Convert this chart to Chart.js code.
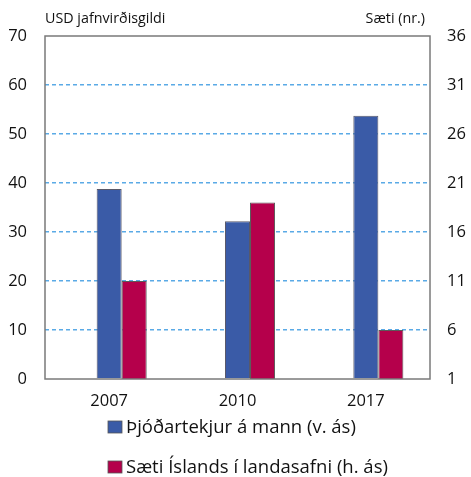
<!DOCTYPE html>
<html>
<head>
    <title>Þjóðartekjur og sæti</title>
    <script src="https://cdn.jsdelivr.net/npm/chart.js"></script>
    <style>
        body { margin: 0; background: #fff; }
    </style>
</head>
<body>
    <canvas id="Chart" width="471" height="477"></canvas>
    <script>
        // gögn lesin af myndinni
        const years = ['2007', '2010', '2017'];
        const incomePerCapita = [38.8, 32.2, 53.7];   // USD jafnvirðisgildi (v. ás)
        const rankIceland = [11, 19, 6];              // sæti (h. ás)
        const spacer = [null, null, null];            // tómt bil vinstra megin, eins og í frummyndinni
        const leftTicks = [0, 10, 20, 30, 40, 50, 60, 70];
        const rightTicks = [1, 6, 11, 16, 21, 26, 31, 36];

        const seriesLabels = ['Þjóðartekjur á mann (v. ás)', 'Sæti Íslands í landasafni (h. ás)'];
        const leftTitle = 'USD jafnvirðisgildi';
        const rightTitle = 'Sæti (nr.)';

        const FONT = "'Open Sans', 'DejaVu Sans', sans-serif";
        const TXT = '#111';

        // ás-titlar, rammi og þjóðsaga teiknuð beint á strigann
        const extras = {
            id: 'extras',
            afterDraw(chart) {
                const c = chart.ctx, a = chart.chartArea;
                c.save();
                c.strokeStyle = '#7a7a7a';
                c.lineWidth = 1.5;
                c.strokeRect(a.left, a.top, a.right - a.left, a.bottom - a.top);

                c.fillStyle = TXT;
                c.font = '14.3px ' + FONT;
                c.textBaseline = 'middle';
                c.textAlign = 'left';
                c.fillText(leftTitle, a.left, 19);
                c.textAlign = 'right';
                c.fillText(rightTitle, a.right - 5, 19);

                c.font = '18.5px ' + FONT;
                c.textAlign = 'left';
                const ys = [427, 467];
                chart.data.datasets.filter(ds => ds.label).forEach((ds, i) => {
                    c.fillStyle = ds.backgroundColor;
                    c.fillRect(108, ys[i] - 6, 14, 12);
                    c.strokeStyle = '#555';
                    c.lineWidth = 0.8;
                    c.strokeRect(108, ys[i] - 6, 14, 12);
                    c.fillStyle = TXT;
                    c.fillText(ds.label, 126, ys[i] + 1);
                });
                c.restore();
            }
        };

        var ctx = document.getElementById('Chart').getContext('2d');
        var chart = new Chart(ctx, {
            type: 'bar',
            data: {
                labels: years,
                datasets: [{
                    label: '',
                    data: spacer,
                    yAxisID: 'y',
                    backgroundColor: 'rgba(0,0,0,0)'
                }, {
                    label: seriesLabels[0],
                    data: incomePerCapita,
                    yAxisID: 'y',
                    backgroundColor: '#3a5ba7',
                    borderColor: '#5a5a6a',
                    borderWidth: 1
                }, {
                    label: seriesLabels[1],
                    data: rankIceland,
                    yAxisID: 'y1',
                    backgroundColor: '#b5004b',
                    borderColor: '#5a5a5a',
                    borderWidth: 1
                }]
            },
            options: {
                responsive: false,
                animation: false,
                layout: { padding: { top: 36, bottom: 62, left: 0, right: 0 } },
                datasets: { bar: { barPercentage: 1, categoryPercentage: 0.585 } },
                plugins: { legend: { display: false }, tooltip: { enabled: false } },
                scales: {
                    x: {
                        grid: { display: false, drawTicks: false },
                        border: { display: false },
                        ticks: { color: TXT, font: { family: FONT, size: 16.5 }, padding: 12 },
                        afterFit(s) { s.height = 36; }
                    },
                    y: {
                        position: 'left',
                        min: 0, max: 70,
                        afterBuildTicks(s) { s.ticks = leftTicks.map(v => ({ value: v })); },
                        grid: {
                            drawTicks: false,
                            color: c => (c.tick && (c.tick.value === 0 || c.tick.value === 70)) ? 'rgba(0,0,0,0)' : '#5aaae6',
                            lineWidth: 1.5
                        },
                        border: { display: false, dash: [4, 3] },
                        ticks: { color: TXT, font: { family: FONT, size: 16.5 }, padding: 18 },
                        afterFit(s) { s.width = 45; }
                    },
                    y1: {
                        position: 'right',
                        min: 1, max: 36,
                        afterBuildTicks(s) { s.ticks = rightTicks.map(v => ({ value: v })); },
                        grid: { display: false, drawTicks: false },
                        border: { display: false },
                        ticks: { color: TXT, font: { family: FONT, size: 16.5 }, padding: 17 },
                        afterFit(s) { s.width = 41; }
                    }
                }
            },
            plugins: [extras]
        });
    </script>
</body>
</html>
